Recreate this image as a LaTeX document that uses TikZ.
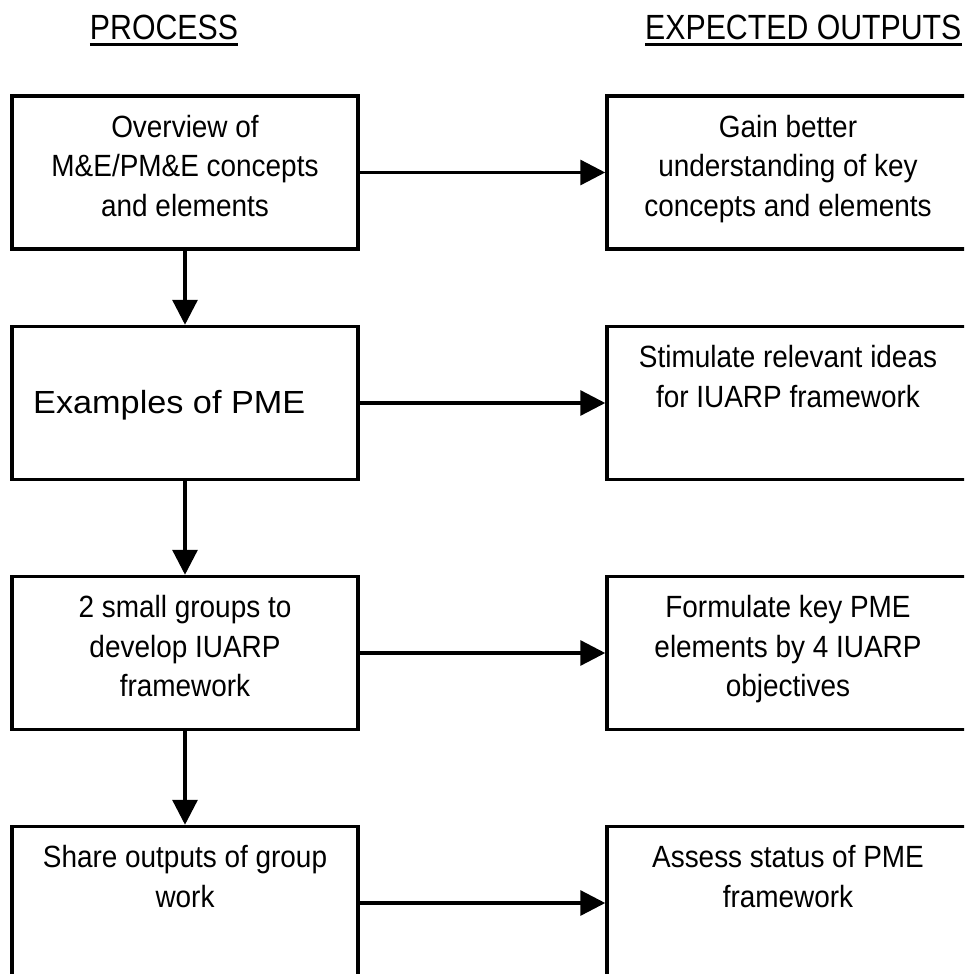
\documentclass[tikz,border=0pt]{standalone}
\usepackage{fontspec}
\usetikzlibrary{arrows.meta,positioning}
\newfontfamily\narrowfont{Liberation Sans}[FakeStretch=0.91]
\newfontfamily\widefont{Liberation Sans}[FakeStretch=1.07]
\newfontfamily\headfont{Liberation Sans}[FakeStretch=0.865]

\begin{document}
\begin{tikzpicture}[x=1pt,y=-1pt,
  pbox/.style={draw,line width=3.5pt,minimum width=346pt,minimum height=153pt,inner sep=0pt},
  obox/.style={draw,line width=3.5pt,minimum width=362pt,minimum height=153pt,inner sep=0pt},
  btext/.style={inner sep=0pt,align=center,font=\narrowfont\fontsize{30.7}{39.5}\selectfont},
  head/.style={inner sep=0pt,font=\headfont\fontsize{35}{42}\selectfont},
  flow/.style={line width=3.3pt,-{Triangle[length=25pt,width=25pt]}}]
\useasboundingbox (0,0) rectangle (964,974);
\clip (0,0) rectangle (964,974);
% headings
\node[head,anchor=base] (hproc) at (164,40) {PROCESS};
\node[head,anchor=base west] (hout) at (645,40) {EXPECTED OUTPUTS};
\draw[line width=3pt] ([yshift=-4.5pt]hproc.base west) -- ([yshift=-4.5pt]hproc.base east);
\draw[line width=3pt] ([yshift=-4.5pt]hout.base west) -- ([yshift=-4.5pt]hout.base east);
% process column
\node[pbox] (p1) at (185,172.5) {};
\node[pbox] (p2) at (185,403) {};
\node[pbox] (p3) at (185,653) {};
\node[pbox] (p4) at (185,903) {};
% outputs column
\node[obox] (o1) at (788,172.5) {};
\node[obox] (o2) at (788,403) {};
\node[obox] (o3) at (788,653) {};
\node[obox] (o4) at (788,903) {};
% texts
\node[btext,below=20.5pt of p1.north] (tp1) {Overview of\\M\&E/PM\&E concepts\\and elements};
\node[anchor=base west,inner sep=0pt,font=\widefont\fontsize{32}{38}\selectfont] (tp2) at (33,413) {Examples of PME};
\node[btext,below=20.5pt of p3.north] (tp3) {2 small groups to\\develop IUARP\\framework};
\node[btext,below=20.5pt of p4.north] (tp4) {Share outputs of group\\work};
\node[btext,below=20.5pt of o1.north] (to1) {Gain better\\understanding of key\\concepts and elements};
\node[btext,below=20.5pt of o2.north] (to2) {Stimulate relevant ideas\\for IUARP framework};
\node[btext,below=20.5pt of o3.north] (to3) {Formulate key PME\\elements by 4 IUARP\\objectives};
\node[btext,below=20.5pt of o4.north] (to4) {Assess status of PME\\framework};
% arrows
\foreach \i in {1,...,4}
  \draw[flow] (p\i.east) -- (o\i.west);
\foreach \i/\j in {1/2,2/3,3/4}
  \draw[flow] (p\i.south) -- (p\j.north);
\end{tikzpicture}
\end{document}
